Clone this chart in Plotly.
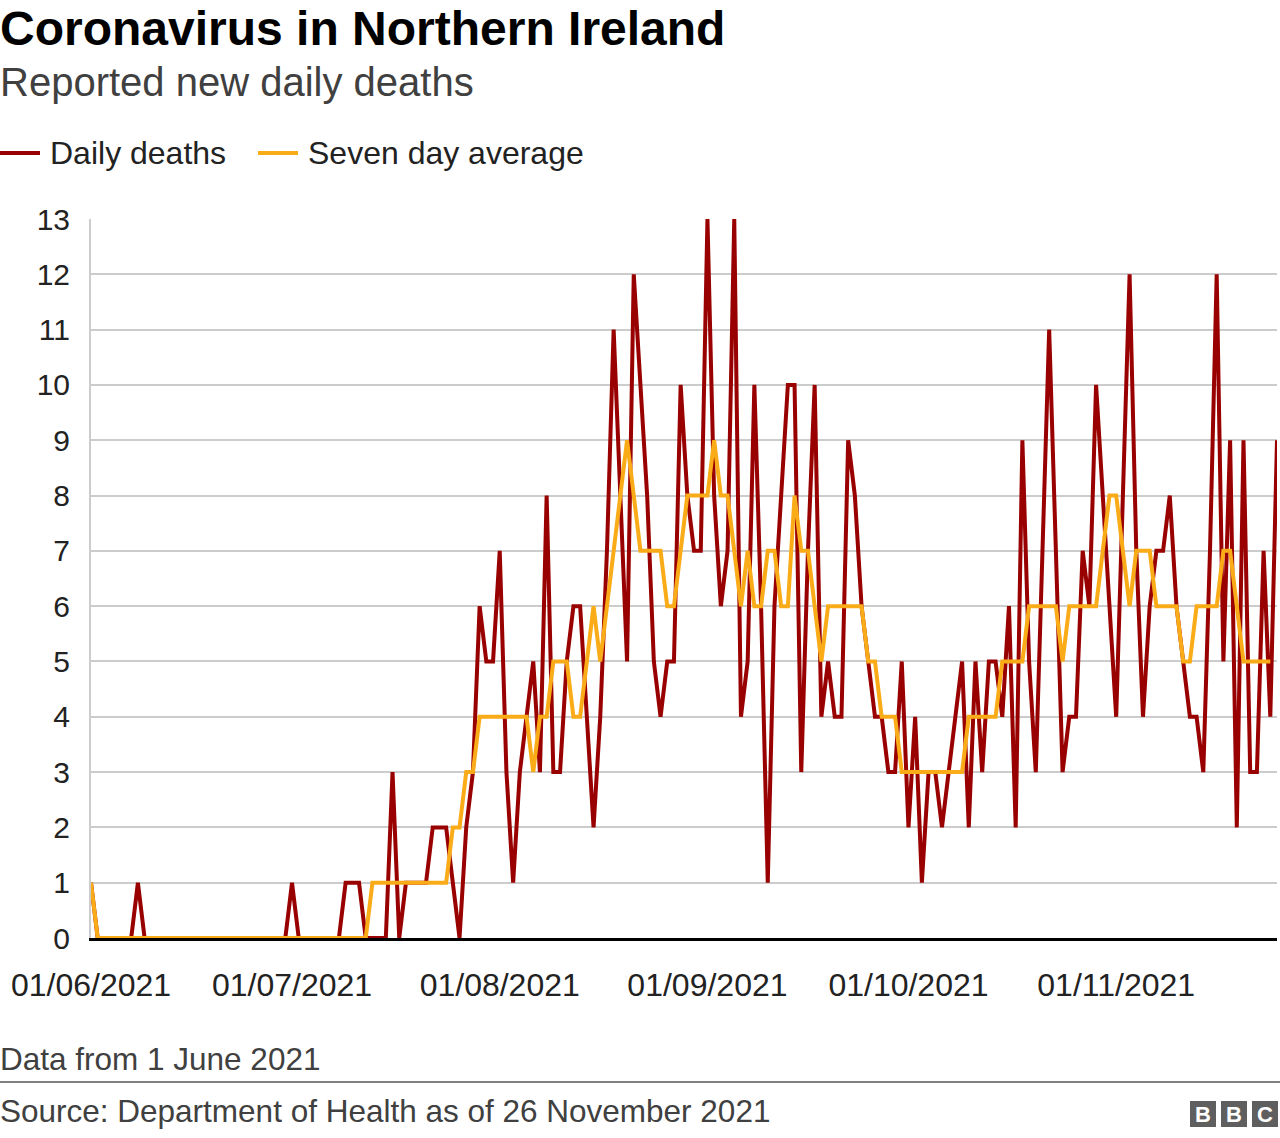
import plotly.graph_objects as go
import pandas as pd

# ---------------- data ----------------
start_date = "2021-06-01"

daily_deaths = [
    1, 0, 0, 0, 0, 0, 0, 1, 0, 0,
    0, 0, 0, 0, 0, 0, 0, 0, 0, 0,
    0, 0, 0, 0, 0, 0, 0, 0, 0, 0,
    1, 0, 0, 0, 0, 0, 0, 0, 1, 1,
    1, 0, 0, 0, 0, 3, 0, 1, 1, 1,
    1, 2, 2, 2, 1, 0, 2, 3, 6, 5,
    5, 7, 3, 1, 3, 4, 5, 3, 8, 3,
    3, 5, 6, 6, 4, 2, 4, 7, 11, 8,
    5, 12, 10, 8, 5, 4, 5, 5, 10, 8,
    7, 7, 13, 8, 6, 7, 13, 4, 5, 10,
    6, 1, 6, 8, 10, 10, 3, 7, 10, 4,
    5, 4, 4, 9, 8, 6, 5, 4, 4, 3,
    3, 5, 2, 4, 1, 3, 3, 2, 3, 4,
    5, 2, 5, 3, 5, 5, 4, 6, 2, 9,
    5, 3, 7, 11, 7, 3, 4, 4, 7, 6,
    10, 8, 6, 4, 8, 12, 7, 4, 6, 7,
    7, 8, 6, 5, 4, 4, 3, 7, 12, 5,
    9, 2, 9, 3, 3, 7, 4, 9,
]

seven_day_average = [
    1, 0, 0, 0, 0, 0, 0, 0, 0, 0,
    0, 0, 0, 0, 0, 0, 0, 0, 0, 0,
    0, 0, 0, 0, 0, 0, 0, 0, 0, 0,
    0, 0, 0, 0, 0, 0, 0, 0, 0, 0,
    0, 0, 1, 1, 1, 1, 1, 1, 1, 1,
    1, 1, 1, 1, 2, 2, 3, 3, 4, 4,
    4, 4, 4, 4, 4, 4, 3, 4, 4, 5,
    5, 5, 4, 4, 5, 6, 5, 6, 7, 8,
    9, 8, 7, 7, 7, 7, 6, 6, 7, 8,
    8, 8, 8, 9, 8, 8, 7, 6, 7, 6,
    6, 7, 7, 6, 6, 8, 7, 7, 6, 5,
    6, 6, 6, 6, 6, 6, 5, 5, 4, 4,
    4, 3, 3, 3, 3, 3, 3, 3, 3, 3,
    3, 4, 4, 4, 4, 4, 5, 5, 5, 5,
    6, 6, 6, 6, 6, 5, 6, 6, 6, 6,
    6, 7, 8, 8, 7, 6, 7, 7, 7, 6,
    6, 6, 6, 5, 5, 6, 6, 6, 6, 7,
    7, 6, 5, 5, 5, 5, 5,
]

tick_dates = ["2021-06-01", "2021-07-01", "2021-08-01",
              "2021-09-01", "2021-10-01", "2021-11-01"]
tick_labels = ["01/06/2021", "01/07/2021", "01/08/2021",
               "01/09/2021", "01/10/2021", "01/11/2021"]
y_ticks = [0, 1, 2, 3, 4, 5, 6, 7, 8, 9, 10, 11, 12, 13]

title_text = "Coronavirus in Northern Ireland"
subtitle_text = "Reported new daily deaths"
legend_names = ["Daily deaths", "Seven day average"]
note_text = "Data from 1 June 2021"
source_text = "Source: Department of Health as of 26 November 2021"

# ---------------- styling ----------------
RED = "#990000"
ORANGE = "#FAAB18"
FONT = "Liberation Sans, Arial, Helvetica, sans-serif"
LINE_W = 4

W, H = 1280, 1138
L, R, T, B = 91, 3, 219, 200
PW, PH = W - L - R, H - T - B


def px(x):
    return (x - L) / PW


def py(y):
    return (H - B - y) / PH


dates = pd.date_range(start_date, periods=len(daily_deaths))
avg_dates = dates[:len(seven_day_average)]

fig = go.Figure()
fig.add_trace(go.Scatter(x=dates, y=daily_deaths, mode="lines",
                         line=dict(color=RED, width=LINE_W), name=legend_names[0],
                         hoverinfo="skip"))
fig.add_trace(go.Scatter(x=avg_dates, y=seven_day_average, mode="lines",
                         line=dict(color=ORANGE, width=LINE_W), name=legend_names[1],
                         hoverinfo="skip"))

annotations = [
    dict(text="<b>" + title_text + "</b>", x=px(-2), y=py(29), xanchor="left",
         yanchor="middle", font=dict(size=48, color="#000000", family=FONT)),
    dict(text=subtitle_text, x=px(-2), y=py(82), xanchor="left", yanchor="middle",
         font=dict(size=40, color="#404040", family=FONT)),
    dict(text=legend_names[0], x=px(48), y=py(153), xanchor="left", yanchor="middle",
         font=dict(size=32, color="#222222", family=FONT)),
    dict(text=legend_names[1], x=px(306), y=py(153), xanchor="left", yanchor="middle",
         font=dict(size=32, color="#222222", family=FONT)),
    dict(text=note_text, x=px(-2), y=py(1059), xanchor="left", yanchor="middle",
         font=dict(size=31.5, color="#404040", family=FONT)),
    dict(text=source_text, x=px(-2), y=py(1111), xanchor="left", yanchor="middle",
         font=dict(size=31.5, color="#404040", family=FONT)),
]
for i, cx in enumerate([1203, 1234, 1265]):
    annotations.append(dict(text="<b>" + "BBC"[i] + "</b>", x=px(cx), y=py(1114),
                            xanchor="center", yanchor="middle",
                            font=dict(size=22, color="#ffffff", family=FONT)))
for a in annotations:
    a.update(xref="paper", yref="paper", showarrow=False)

shapes = [
    dict(type="line", xref="paper", yref="paper", x0=px(0), x1=px(40),
         y0=py(153), y1=py(153), line=dict(color=RED, width=LINE_W)),
    dict(type="line", xref="paper", yref="paper", x0=px(258), x1=px(298),
         y0=py(153), y1=py(153), line=dict(color=ORANGE, width=LINE_W)),
    dict(type="line", xref="paper", yref="paper", x0=px(0), x1=px(1280),
         y0=py(1082), y1=py(1082), line=dict(color="#808080", width=2)),
]
for x0 in [1190, 1221, 1252]:
    shapes.append(dict(type="rect", xref="paper", yref="paper", x0=px(x0), x1=px(x0 + 26),
                       y0=py(1101), y1=py(1127), line=dict(width=0), fillcolor="#5f5f5f"))

fig.update_layout(
    width=W, height=H,
    margin=dict(l=L, r=R, t=T, b=B, pad=0),
    paper_bgcolor="#ffffff", plot_bgcolor="#ffffff",
    showlegend=False,
    font=dict(family=FONT, color="#222222"),
    annotations=annotations,
    shapes=shapes,
    xaxis=dict(
        type="date",
        range=[dates[0], dates[-1]],
        tickvals=tick_dates, ticktext=tick_labels,
        showgrid=False, zeroline=False,
        showline=True, linecolor="#000000", linewidth=3,
        ticks="", ticklabelstandoff=17,
        tickfont=dict(size=32, color="#222222", family=FONT),
        layer="below traces",
    ),
    yaxis=dict(
        range=[0, 13], tickvals=y_ticks,
        showgrid=True, gridcolor="#cccccc", gridwidth=2,
        zeroline=False,
        showline=True, linecolor="#cccccc", linewidth=2,
        ticks="", ticklabelstandoff=13,
        tickfont=dict(size=30, color="#222222", family=FONT),
        layer="below traces",
    ),
)

fig.write_html("out.html", config={"displayModeBar": False},
               post_script="document.body.style.margin='0';")
